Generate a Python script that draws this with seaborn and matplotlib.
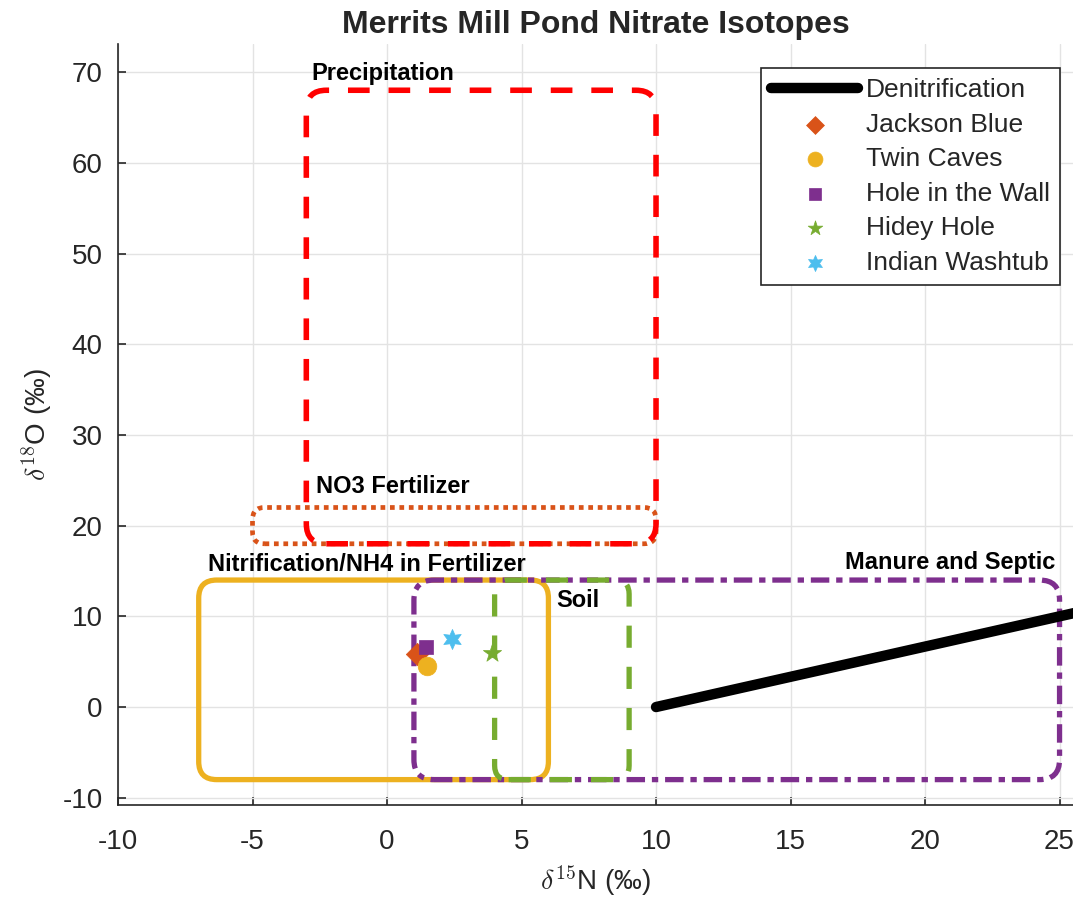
import numpy as np
import matplotlib
matplotlib.use("Agg")
import matplotlib.pyplot as plt
from matplotlib.patches import FancyBboxPatch
import seaborn as sns

# ---------------- data ----------------
denit_x = [10, 40]
denit_y = [0, 20]

site_names = ["Jackson Blue", "Twin Caves", "Hole in the Wall", "Hidey Hole", "Indian Washtub"]
site_n15 = [1.10, 1.47, 1.45, 3.89, 2.40]
site_o18 = [5.9, 4.5, 6.6, 6.0, 7.5]

box_names = ["Nitrification/NH4 in Fertilizer", "NO3 Fertilizer", "Precipitation",
             "Manure and Septic", "Soil"]
box_x0 = [-7, -5, -3, 1, 4]
box_x1 = [6, 10, 10, 25, 9]
box_y0 = [-8, 18, 18, -8, -8]
box_y1 = [14, 22, 68, 14, 14]

x_ticks = [-10, -5, 0, 5, 10, 15, 20, 25]
y_ticks = [-10, 0, 10, 20, 30, 40, 50, 60, 70]

# ---------------- styling ----------------
sns.set_style("white")
plt.rcParams["font.family"] = ["Liberation Sans", "DejaVu Sans"]
plt.rcParams["mathtext.fontset"] = "cm"
plt.rcParams["axes.unicode_minus"] = False

site_colors = ["#D95319", "#EDB120", "#7E2F8E", "#77AC30", "#4DBEEE"]
site_markers = ["D", "o", "s", "*", (6, 1, 0)]
site_sizes = [130, 180, 110, 190, 210]

box_colors = ["#EDB120", "#D95319", "#FF0000", "#7E2F8E", "#77AC30"]
box_styles = ["-", (0, (1, 1)), (0, (3.9, 3.4)), (0, (3.5, 1.3, 1.2, 1.3)), (0, (4.2, 3.6))]
box_lw = [3.8, 3.4, 4.0, 3.8, 3.8]
box_rpx = [18, 12, 20, 20, 14]
label_pos = [(-6.65, 15.7), (-2.64, 24.3), (-2.83, 69.9), (17.03, 15.9), (6.28, 11.8)]

fig = plt.figure(figsize=(10.73, 9.11), dpi=100)
ax = fig.add_axes([118 / 1073, 1 - 805 / 911, 1 - 118 / 1073, (805 - 44) / 911])
ax.set_xlim(-10, 25.5)
ax.set_ylim(-10.8, 73.1)

ax.set_xticks(x_ticks)
ax.set_yticks(y_ticks)
ax.grid(True, color="#e3e3e3", lw=1.0)
ax.set_axisbelow(True)

# pixel scale for round corners
fig.canvas.draw()
p0 = ax.transData.transform((0, 0))
p1 = ax.transData.transform((1, 1))
px_x = p1[0] - p0[0]
px_y = p1[1] - p0[1]
asp = px_x / px_y

for i in range(len(box_names)):
    r = box_rpx[i] / px_x
    patch = FancyBboxPatch((box_x0[i], box_y0[i]), box_x1[i] - box_x0[i], box_y1[i] - box_y0[i],
                           boxstyle=f"round,pad=0,rounding_size={r}", mutation_aspect=asp,
                           fill=False, edgecolor=box_colors[i], linestyle=box_styles[i],
                           lw=box_lw[i], capstyle="butt", zorder=2 + i * 0.1)
    ax.add_patch(patch)
    ax.text(label_pos[i][0], label_pos[i][1], box_names[i], ha="left", va="center",
            fontsize=17, fontweight="bold", color="black", zorder=5)

sns.lineplot(x=denit_x, y=denit_y, color="black", lw=7.5, label="Denitrification", ax=ax,
             zorder=4)
for i in range(len(site_names)):
    sns.scatterplot(x=[site_n15[i]], y=[site_o18[i]], marker=site_markers[i], s=site_sizes[i],
                    color=site_colors[i], edgecolor=site_colors[i], linewidth=0.5,
                    label=site_names[i], ax=ax, zorder=6)

ax.set_xlim(-10, 25.5)
ax.set_ylim(-10.8, 73.1)

for s in ["top", "right"]:
    ax.spines[s].set_visible(False)
for s in ["left", "bottom"]:
    ax.spines[s].set_color("#262626")
    ax.spines[s].set_linewidth(1.2)
ax.tick_params(direction="in", length=6, width=1.2, colors="#262626", labelsize=20,
               left=True, bottom=True)
ax.tick_params(axis="x", pad=17)
ax.tick_params(axis="y", pad=11)

ax.set_xlabel(r"$\delta^{\mathsf{15}}$N (‰)", fontsize=20, color="#262626", labelpad=6)
ax.set_ylabel(r"$\delta^{\mathsf{18}}$O (‰)", fontsize=20, color="#262626", labelpad=6)
ax.set_title("Merrits Mill Pond Nitrate Isotopes", fontsize=23, fontweight="bold", pad=8)

leg = ax.legend(loc="upper right", bbox_to_anchor=(1060 / 1073, 1 - 68 / 911),
                bbox_transform=fig.transFigure, borderaxespad=0, fontsize=19,
                handlelength=3.3, handletextpad=0.3, labelspacing=0.4, borderpad=0.38,
                markerscale=0.8, fancybox=False, framealpha=1, edgecolor="#262626")
leg.get_frame().set_linewidth(1.2)

fig.savefig("out.png", dpi=100)
